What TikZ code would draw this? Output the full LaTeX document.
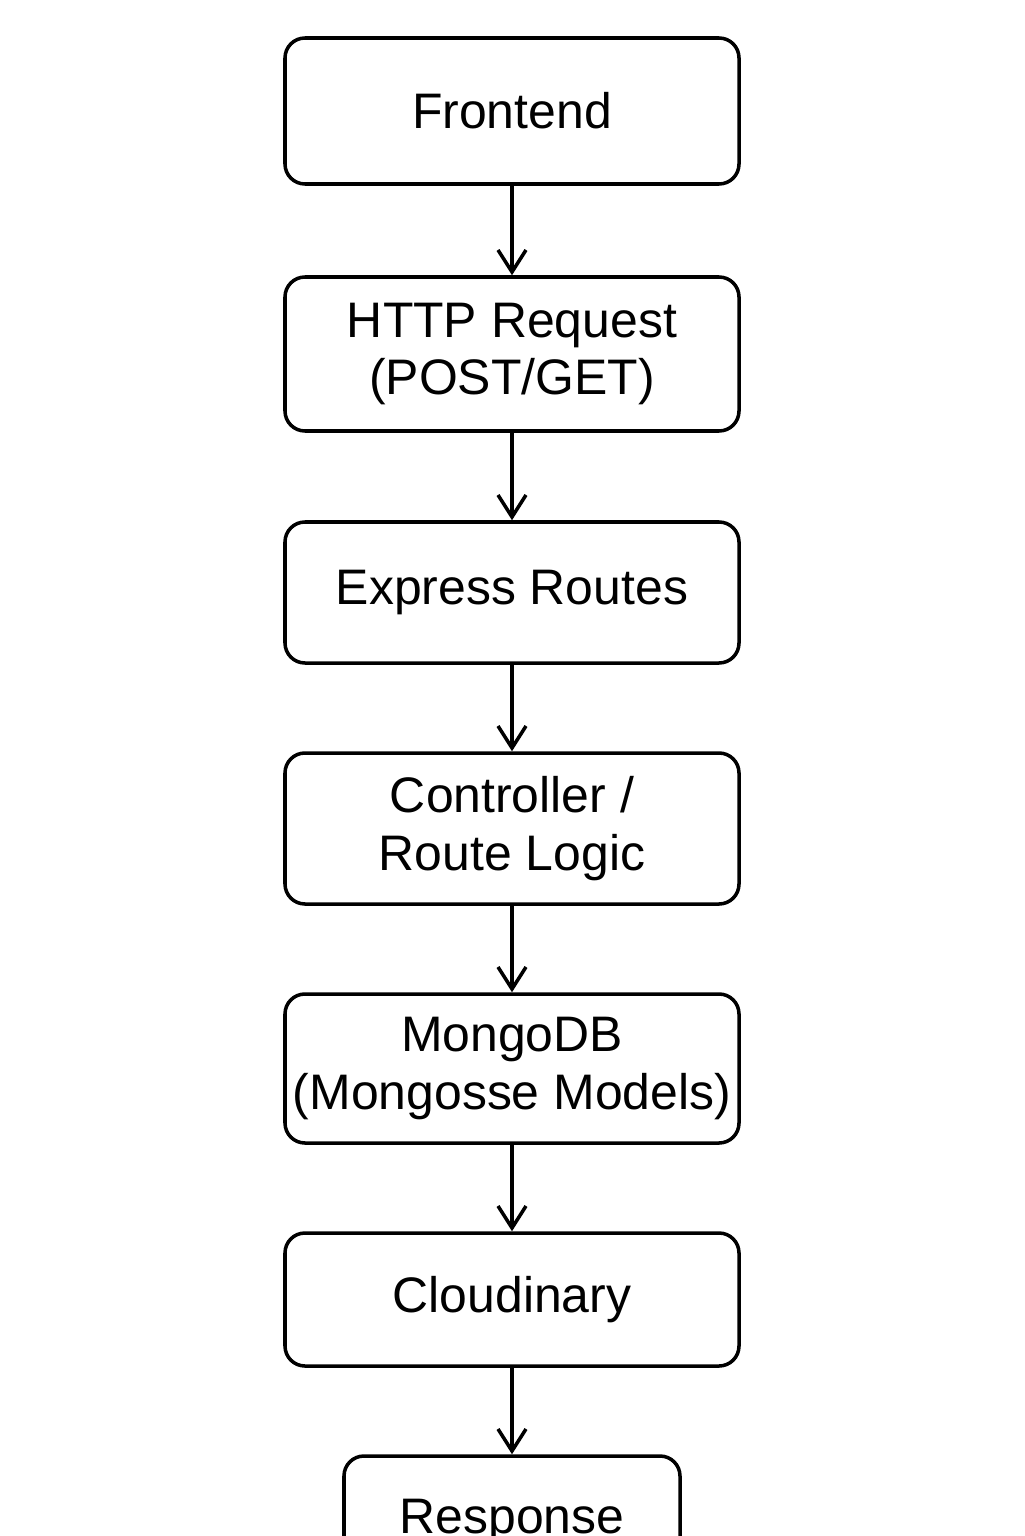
\documentclass[tikz,border=0pt]{standalone}
\usepackage{fontspec}
\setmainfont{Liberation Sans}
\usetikzlibrary{arrows.meta}
\tikzset{
    box/.style={draw, line width=1pt, rounded corners=0.2cm, minimum width=4.54cm, align=center, inner sep=0pt, font=\fontsize{14.2}{16.5}\selectfont}, % every step of the flow
    flow/.style={-{Straight Barb[length=0.22cm,width=0.28cm]}, line width=1pt}, % open arrow heads
}
\begin{document}
\begin{tikzpicture}
    \useasboundingbox (0,0) rectangle (10.24,-15.36);
    \clip (0,0) rectangle (10.24,-15.36);
    \node[box, minimum height=1.46cm] (front) at (5.12,-1.11) {Frontend};
    \node[box, minimum height=1.54cm] (http) at (5.12,-3.54) {HTTP Request\\(POST/GET)};
    \node[box, minimum height=1.41cm] (routes) at (5.12,-5.925) {Express Routes};
    \node[box, minimum height=1.51cm] (ctrl) at (5.12,-8.285) {Controller /\\Route Logic};
    \node[box, minimum height=1.49cm] (mongo) at (5.12,-10.685) {MongoDB\\(Mongosse Models)};
    \node[box, minimum height=1.33cm] (cloud) at (5.12,-12.995) {Cloudinary};
    \node[box, minimum width=3.36cm, minimum height=1.3cm] (resp) at (5.12,-15.21) {Response};
    \foreach \a/\b in {front/http, http/routes, routes/ctrl, ctrl/mongo, mongo/cloud, cloud/resp}
        \draw[flow] (\a) -- (\b);
\end{tikzpicture}
\end{document}
